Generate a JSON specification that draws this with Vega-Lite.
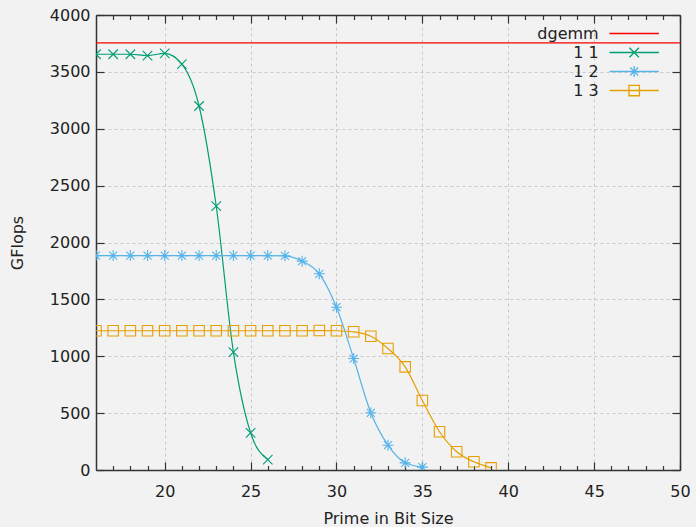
{
  "$schema": "https://vega.github.io/schema/vega-lite/v6.json",
  "width": 584,
  "height": 455,
  "autosize": {"type": "none"},
  "padding": {"left": 96, "top": 15, "right": 16, "bottom": 57},
  "background": "#f2f2f2",
  "config": {
    "view": {"stroke": null},
    "font": "DejaVu Sans",
    "axis": {
      "domainColor": "#333333",
      "domainWidth": 1.5,
      "tickColor": "#333333",
      "tickWidth": 1.2,
      "labelFontSize": 16,
      "labelColor": "#222222",
      "labelFont": "DejaVu Sans",
      "titleFont": "DejaVu Sans",
      "titleFontSize": 16,
      "titleFontWeight": "normal",
      "titleColor": "#222222",
      "labelFlush": false,
      "labelOverlap": false,
      "gridColor": "#c8c8c8",
      "gridDash": [3, 3],
      "gridWidth": 1
    },
    "legend": {"labelFont": "DejaVu Sans"}
  },
  "data": {
    "values": [
      {"s": "dgemm", "x": 16, "y": 3755},
      {"s": "dgemm", "x": 50, "y": 3755},
      {"s": "1 1", "x": 16, "y": 3655},
      {"s": "1 1", "x": 17, "y": 3655},
      {"s": "1 1", "x": 18, "y": 3655},
      {"s": "1 1", "x": 19, "y": 3643},
      {"s": "1 1", "x": 20, "y": 3663},
      {"s": "1 1", "x": 21, "y": 3568},
      {"s": "1 1", "x": 22, "y": 3200},
      {"s": "1 1", "x": 23, "y": 2319},
      {"s": "1 1", "x": 24, "y": 1036},
      {"s": "1 1", "x": 25, "y": 327},
      {"s": "1 1", "x": 26, "y": 92},
      {"s": "1 2", "x": 16, "y": 1885},
      {"s": "1 2", "x": 17, "y": 1885},
      {"s": "1 2", "x": 18, "y": 1885},
      {"s": "1 2", "x": 19, "y": 1885},
      {"s": "1 2", "x": 20, "y": 1885},
      {"s": "1 2", "x": 21, "y": 1885},
      {"s": "1 2", "x": 22, "y": 1885},
      {"s": "1 2", "x": 23, "y": 1885},
      {"s": "1 2", "x": 24, "y": 1885},
      {"s": "1 2", "x": 25, "y": 1885},
      {"s": "1 2", "x": 26, "y": 1885},
      {"s": "1 2", "x": 27, "y": 1883},
      {"s": "1 2", "x": 28, "y": 1836},
      {"s": "1 2", "x": 29, "y": 1725},
      {"s": "1 2", "x": 30, "y": 1431},
      {"s": "1 2", "x": 31, "y": 980},
      {"s": "1 2", "x": 32, "y": 503},
      {"s": "1 2", "x": 33, "y": 218},
      {"s": "1 2", "x": 34, "y": 63},
      {"s": "1 2", "x": 35, "y": 25},
      {"s": "1 3", "x": 16, "y": 1224},
      {"s": "1 3", "x": 17, "y": 1224},
      {"s": "1 3", "x": 18, "y": 1224},
      {"s": "1 3", "x": 19, "y": 1224},
      {"s": "1 3", "x": 20, "y": 1224},
      {"s": "1 3", "x": 21, "y": 1224},
      {"s": "1 3", "x": 22, "y": 1224},
      {"s": "1 3", "x": 23, "y": 1224},
      {"s": "1 3", "x": 24, "y": 1224},
      {"s": "1 3", "x": 25, "y": 1224},
      {"s": "1 3", "x": 26, "y": 1224},
      {"s": "1 3", "x": 27, "y": 1224},
      {"s": "1 3", "x": 28, "y": 1224},
      {"s": "1 3", "x": 29, "y": 1226},
      {"s": "1 3", "x": 30, "y": 1224},
      {"s": "1 3", "x": 31, "y": 1215},
      {"s": "1 3", "x": 32, "y": 1176},
      {"s": "1 3", "x": 33, "y": 1068},
      {"s": "1 3", "x": 34, "y": 907},
      {"s": "1 3", "x": 35, "y": 611},
      {"s": "1 3", "x": 36, "y": 336},
      {"s": "1 3", "x": 37, "y": 160},
      {"s": "1 3", "x": 38, "y": 72},
      {"s": "1 3", "x": 39, "y": 19}
    ]
  },
  "layer": [
    {
      "mark": {"type": "line", "interpolate": "monotone", "strokeWidth": 1.2, "clip": true},
      "encoding": {
        "x": {
          "field": "x", "type": "quantitative",
          "scale": {"domain": [16, 50], "nice": false, "zero": false},
          "axis": {
            "orient": "bottom",
            "values": [20, 25, 30, 35, 40, 45, 50],
            "grid": true,
            "tickSize": -8,
            "labelPadding": 21,
            "title": "Prime in Bit Size",
            "titlePadding": 11
          }
        },
        "y": {
          "field": "y", "type": "quantitative",
          "scale": {"domain": [0, 4000], "nice": false},
          "axis": {
            "orient": "left",
            "values": [0, 500, 1000, 1500, 2000, 2500, 3000, 3500, 4000],
            "format": "d",
            "grid": true,
            "tickSize": -8,
            "labelPadding": 14,
            "title": "GFlops",
            "titlePadding": 24
          }
        },
        "color": {
          "field": "s", "type": "nominal",
          "scale": {
            "domain": ["dgemm", "1 1", "1 2", "1 3"],
            "range": ["#ff0000", "#009e73", "#56b4e9", "#e69f00"]
          },
          "legend": {
            "orient": "none",
            "legendX": 509,
            "legendY": 3,
            "title": null,
            "labelFontSize": 16,
            "labelColor": "#222222",
            "labelAlign": "right",
            "labelOffset": -46,
            "labelLimit": 300,
            "symbolSize": 361,
            "symbolOffset": 13.7,
            "symbolStrokeWidth": 1.3,
            "rowPadding": 0,
            "padding": 5,
            "encode": {
              "symbols": {
                "update": {
                  "shape": {"signal": "datum.value === 'dgemm' ? 'M-2.6,0L2.6,0' : datum.value === '1 1' ? 'M-2.6,0L2.6,0M-0.5,-0.5L0.5,0.5M-0.5,0.5L0.5,-0.5' : datum.value === '1 2' ? 'M-2.6,0L2.6,0M-0.42,-0.42L0.42,0.42M-0.42,0.42L0.42,-0.42M0,-0.58L0,0.58' : 'M-2.6,0L2.6,0M-0.55,-0.55L0.55,-0.55L0.55,0.55L-0.55,0.55Z'"},
                  "size": {"value": 361},
                  "stroke": {"signal": "datum.value === 'dgemm' ? '#ff0000' : datum.value === '1 1' ? '#009e73' : datum.value === '1 2' ? '#56b4e9' : '#e69f00'"},
                  "strokeWidth": {"value": 1.3},
                  "fill": {"value": "transparent"},
                  "opacity": {"value": 1}
                }
              }
            }
          }
        }
      }
    },
    {
      "transform": [{"filter": "datum.s !== 'dgemm'"}],
      "mark": {"type": "point", "filled": false, "strokeWidth": 1.1, "size": 100, "opacity": 1, "clip": true},
      "encoding": {
        "x": {
          "field": "x", "type": "quantitative",
          "axis": {
            "orient": "top",
            "values": [20, 25, 30, 35, 40, 45, 50],
            "labels": false, "grid": false, "tickSize": -8, "title": null
          }
        },
        "y": {
          "field": "y", "type": "quantitative",
          "axis": {
            "orient": "right",
            "values": [0, 500, 1000, 1500, 2000, 2500, 3000, 3500, 4000],
            "labels": false, "grid": false, "tickSize": -8, "title": null
          }
        },
        "color": {"field": "s", "type": "nominal"},
        "shape": {
          "field": "s", "type": "nominal",
          "scale": {
            "domain": ["1 1", "1 2", "1 3"],
            "range": [
              "M-0.95,-0.95L0.95,0.95M-0.95,0.95L0.95,-0.95",
              "M-0.8,-0.8L0.8,0.8M-0.8,0.8L0.8,-0.8M0,-1.1L0,1.1M-1.1,0L1.1,0",
              "M-1.05,-1.05L1.05,-1.05L1.05,1.05L-1.05,1.05Z"
            ]
          },
          "legend": null
        }
      }
    },
    {
      "transform": [{"filter": "datum.s === 'dgemm'"}],
      "mark": {"type": "point", "opacity": 0},
      "encoding": {
        "x": {
          "field": "x", "type": "quantitative",
          "axis": {
            "orient": "bottom",
            "values": [17, 18, 19, 21, 22, 23, 24, 26, 27, 28, 29, 31, 32, 33, 34, 36, 37, 38, 39, 41, 42, 43, 44, 46, 47, 48, 49],
            "labels": false, "grid": false, "domain": false, "tickSize": -4.5, "title": null
          }
        },
        "y": {"field": "y", "type": "quantitative", "axis": null}
      }
    },
    {
      "transform": [{"filter": "datum.s === 'dgemm'"}],
      "mark": {"type": "point", "opacity": 0},
      "encoding": {
        "x": {
          "field": "x", "type": "quantitative",
          "axis": {
            "orient": "top",
            "values": [17, 18, 19, 21, 22, 23, 24, 26, 27, 28, 29, 31, 32, 33, 34, 36, 37, 38, 39, 41, 42, 43, 44, 46, 47, 48, 49],
            "labels": false, "grid": false, "domain": false, "tickSize": -4.5, "title": null
          }
        },
        "y": {"field": "y", "type": "quantitative", "axis": null}
      }
    }
  ],
  "resolve": {"axis": {"x": "independent", "y": "independent"}}
}
